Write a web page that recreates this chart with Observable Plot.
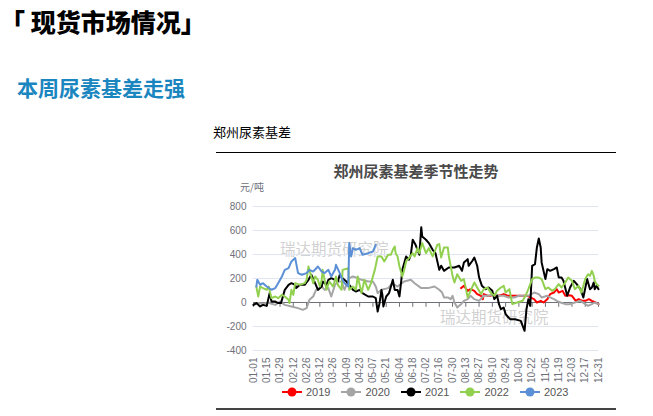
<!DOCTYPE html>
<html><head><meta charset="utf-8">
<script src="https://cdn.jsdelivr.net/npm/d3@7"></script>
<script src="https://cdn.jsdelivr.net/npm/@observablehq/plot@0.6"></script>
<style>
html,body{margin:0;padding:0;}
body{width:653px;height:416px;position:relative;background:#fff;overflow:hidden;font-family:"Noto Sans CJK SC",sans-serif;}
.abs{position:absolute;white-space:nowrap;}
.wm{position:absolute;white-space:nowrap;font-size:15.5px;color:rgba(170,170,170,0.55);line-height:18px;}
#legend{position:absolute;left:282px;top:386px;display:flex;align-items:center;font-family:"Liberation Sans","Noto Sans CJK SC",sans-serif;font-size:11px;color:#555;}
#legend .item{display:flex;align-items:center;margin-right:11px;}
#legend svg{margin-right:4px;}
</style></head><body>
<div class="abs" style="left:0px;top:4px;font-size:25px;font-weight:900;color:#000;line-height:34px;">「 现货市场情况」</div>
<div class="abs" style="left:17px;top:74px;font-size:21px;font-weight:700;color:#1a86bf;line-height:26px;">本周尿素基差走强</div>
<div class="abs" style="left:213px;top:124px;font-size:13px;color:#000;line-height:16px;">郑州尿素基差</div>
<div class="abs" style="left:216px;top:152px;width:400px;height:0;border-top:1.5px solid #000;"></div>
<div class="abs" style="left:0;width:832px;top:161px;text-align:center;font-size:15px;font-weight:700;color:#4a4a4a;line-height:20px;">郑州尿素基差季节性走势</div>
<div class="abs" style="left:240px;top:181px;font-size:10px;color:#6E7079;line-height:12px;">元/吨</div>
<div class="wm" style="left:280px;top:239px;">瑞达期货研究院</div>
<div class="wm" style="left:440px;top:307px;">瑞达期货研究院</div>
<div id="chart" class="abs" style="left:200px;top:195px;"></div>
<div id="legend"></div>
<div class="abs" style="left:216px;top:408px;width:400px;height:0;border-top:2px solid #444;"></div>
<script>
// x tick labels (every 14 days from 01-01)
const xTickLabels = ["01-01","01-15","01-29","02-12","02-26","03-12","03-26","04-09","04-23","05-07","05-21","06-04","06-18","07-02","07-16","07-30","08-13","08-27","09-10","09-24","10-08","10-22","11-05","11-19","12-03","12-17","12-31"];
const yTicks = [-400, -200, 0, 200, 400, 600, 800];
const years = ["2019", "2020", "2021", "2022", "2023"];
const colors = ["#ff0000", "#a5a5a5", "#000000", "#92d050", "#5b8fd6"];

// [day of year, basis 元/吨]
const s2019 = [[219,120],[222,139],[226,97],[229,111],[233,97],[236,70],[240,56],[242,28],[243,70],[247,56],[250,56],[254,70],[259,56],[264,70],[268,56],[273,56],[278,56],[284,56],[289,56],[292,42],[296,28],[299,0],[303,14],[306,0],[310,28],[313,70],[317,83],[320,111],[322,83],[326,97],[329,56],[333,61],[336,56],[340,14],[343,28],[347,14],[350,14],[354,28],[357,14],[361,0],[364,-14]];
const s2020 = [[0,-20],[5,-5],[10,-11],[16,0],[19,-11],[23,-20],[28,8],[33,-20],[40,-33],[47,-47],[52,-61],[56,-47],[59,22],[63,50],[66,106],[72,133],[75,106],[79,120],[82,50],[86,147],[89,175],[93,175],[96,106],[101,203],[105,217],[110,203],[114,189],[121,175],[126,175],[129,133],[131,78],[135,106],[142,120],[145,147],[149,147],[152,133],[159,175],[166,189],[170,161],[177,120],[184,120],[191,133],[196,106],[199,83],[201,42],[205,42],[208,28],[210,56],[212,0],[215,-42],[217,-28],[219,-14],[222,14],[226,28],[229,56],[233,28],[238,14],[243,56],[248,56],[254,70],[259,56],[264,56],[269,42],[275,42],[280,56],[285,56],[290,56],[296,83],[301,70],[304,42],[310,56],[313,42],[317,28],[320,14],[324,0],[329,-14],[334,-14],[339,0],[345,14],[350,-14],[353,-28],[357,-14],[360,0],[364,-14]];
const s2021 = [[0,-20],[3,-5],[7,-33],[10,-20],[14,-28],[17,78],[19,8],[23,8],[26,-5],[29,-5],[33,105],[37,147],[40,161],[44,147],[45,120],[49,147],[54,147],[58,189],[61,231],[65,161],[68,105],[72,133],[73,175],[77,147],[79,189],[82,203],[86,189],[89,175],[91,231],[94,203],[98,175],[101,147],[105,105],[108,92],[112,105],[115,78],[121,50],[126,50],[129,36],[131,-75],[133,-5],[135,105],[136,64],[137,-33],[140,50],[143,78],[145,133],[147,189],[149,105],[152,105],[154,50],[156,189],[157,272],[161,384],[164,356],[166,398],[168,523],[171,481],[175,398],[177,628],[178,550],[182,523],[185,495],[189,439],[192,411],[196,272],[198,306],[201,264],[206,292],[212,292],[217,306],[220,264],[222,334],[226,361],[227,306],[231,348],[233,375],[236,306],[238,209],[241,139],[245,111],[248,125],[252,97],[254,28],[257,56],[259,-14],[261,-56],[264,-42],[266,-97],[269,-125],[271,-139],[276,-139],[282,-153],[284,-195],[286,-236],[288,-56],[290,28],[292,-28],[294,306],[297,320],[299,459],[301,534],[303,459],[304,334],[308,195],[310,278],[313,264],[317,278],[320,292],[322,209],[325,209],[327,181],[331,56],[334,125],[338,181],[341,153],[345,111],[348,42],[352,195],[355,111],[357,125],[359,167],[360,111],[362,139],[364,111]];
const s2022 = [[3,133],[5,50],[7,133],[10,120],[14,106],[16,133],[19,36],[23,50],[26,36],[30,64],[33,50],[37,22],[38,-5],[40,106],[42,64],[44,161],[49,147],[54,161],[56,189],[58,300],[59,272],[63,161],[65,217],[68,189],[70,133],[72,189],[73,272],[75,189],[77,106],[80,175],[84,133],[87,217],[89,147],[93,106],[94,272],[100,286],[101,106],[105,133],[108,106],[110,217],[114,78],[117,189],[121,106],[124,161],[126,217],[128,272],[131,384],[135,384],[138,342],[142,398],[145,398],[147,439],[149,467],[150,411],[152,384],[154,300],[157,217],[159,272],[161,342],[164,370],[168,411],[170,384],[173,453],[175,411],[178,495],[182,411],[185,453],[189,384],[194,481],[196,487],[198,375],[201,459],[205,459],[206,389],[210,222],[212,167],[215,236],[219,181],[222,195],[226,42],[229,97],[233,167],[236,125],[240,70],[243,111],[247,125],[250,83],[254,56],[257,97],[261,125],[264,139],[266,83],[270,111],[273,-14],[278,0],[284,14],[287,56],[290,111],[294,195],[297,208],[301,208],[304,195],[308,111],[311,125],[315,97],[318,111],[322,153],[325,125],[329,167],[332,208],[336,181],[339,111],[343,139],[346,83],[350,195],[353,236],[355,222],[357,264],[359,222],[360,181],[362,153],[364,139]];
const s2023 = [[3,133],[4,189],[7,147],[10,161],[14,133],[19,106],[23,120],[26,161],[30,217],[33,272],[37,286],[40,342],[44,370],[47,245],[51,231],[56,245],[59,272],[63,258],[68,300],[72,258],[75,245],[79,272],[82,217],[86,272],[87,314],[91,245],[93,203],[96,161],[100,133],[101,495],[103,384],[105,453],[108,439],[112,453],[115,398],[121,411],[126,425],[129,481]];

const seriesList = [s2019, s2020, s2021, s2022, s2023];
const xTickDays = xTickLabels.map((_, i) => i * 14);

const chart = Plot.plot({
  width: 410, height: 195,
  marginLeft: 53, marginRight: 12, marginTop: 11, marginBottom: 40,
  style: {background: "transparent", fontFamily: "'Liberation Sans','Noto Sans CJK SC',sans-serif", overflow: "visible"},
  x: {domain: [0, 364]},
  y: {domain: [-400, 800]},
  marks: [
    Plot.gridY(yTicks, {stroke: "#E0E6F1", strokeOpacity: 1}),
    Plot.axisY(yTicks, {tickSize: 0, tickPadding: 7, fontSize: 10, fill: "#6E7079", tickFormat: d => String(d), label: null}),
    Plot.axisX(xTickDays, {tickSize: 0, tickPadding: 7, tickRotate: -90, fontSize: 10, fill: "#6E7079", tickFormat: d => xTickLabels[Math.round(d / 14)], label: null}),
    Plot.ruleY([0], {stroke: "#6E7079", strokeWidth: 1}),
    Plot.ruleX(xTickDays, {x: d => d, y1: 0, y2: -40, stroke: "#6E7079"}),
    ...seriesList.map((s, i) => Plot.line(s, {x: d => d[0], y: d => d[1], stroke: colors[i], strokeWidth: 2}))
  ]
});
document.getElementById("chart").appendChild(chart);

const legend = document.getElementById("legend");
years.forEach((y, i) => {
  const item = document.createElement("div");
  item.className = "item";
  item.innerHTML = `<svg width="20" height="12"><line x1="0" y1="6" x2="20" y2="6" stroke="${colors[i]}" stroke-width="2"/><circle cx="10" cy="6" r="4.5" fill="${colors[i]}"/></svg><span>${y}</span>`;
  legend.appendChild(item);
});
</script>
</body></html>
